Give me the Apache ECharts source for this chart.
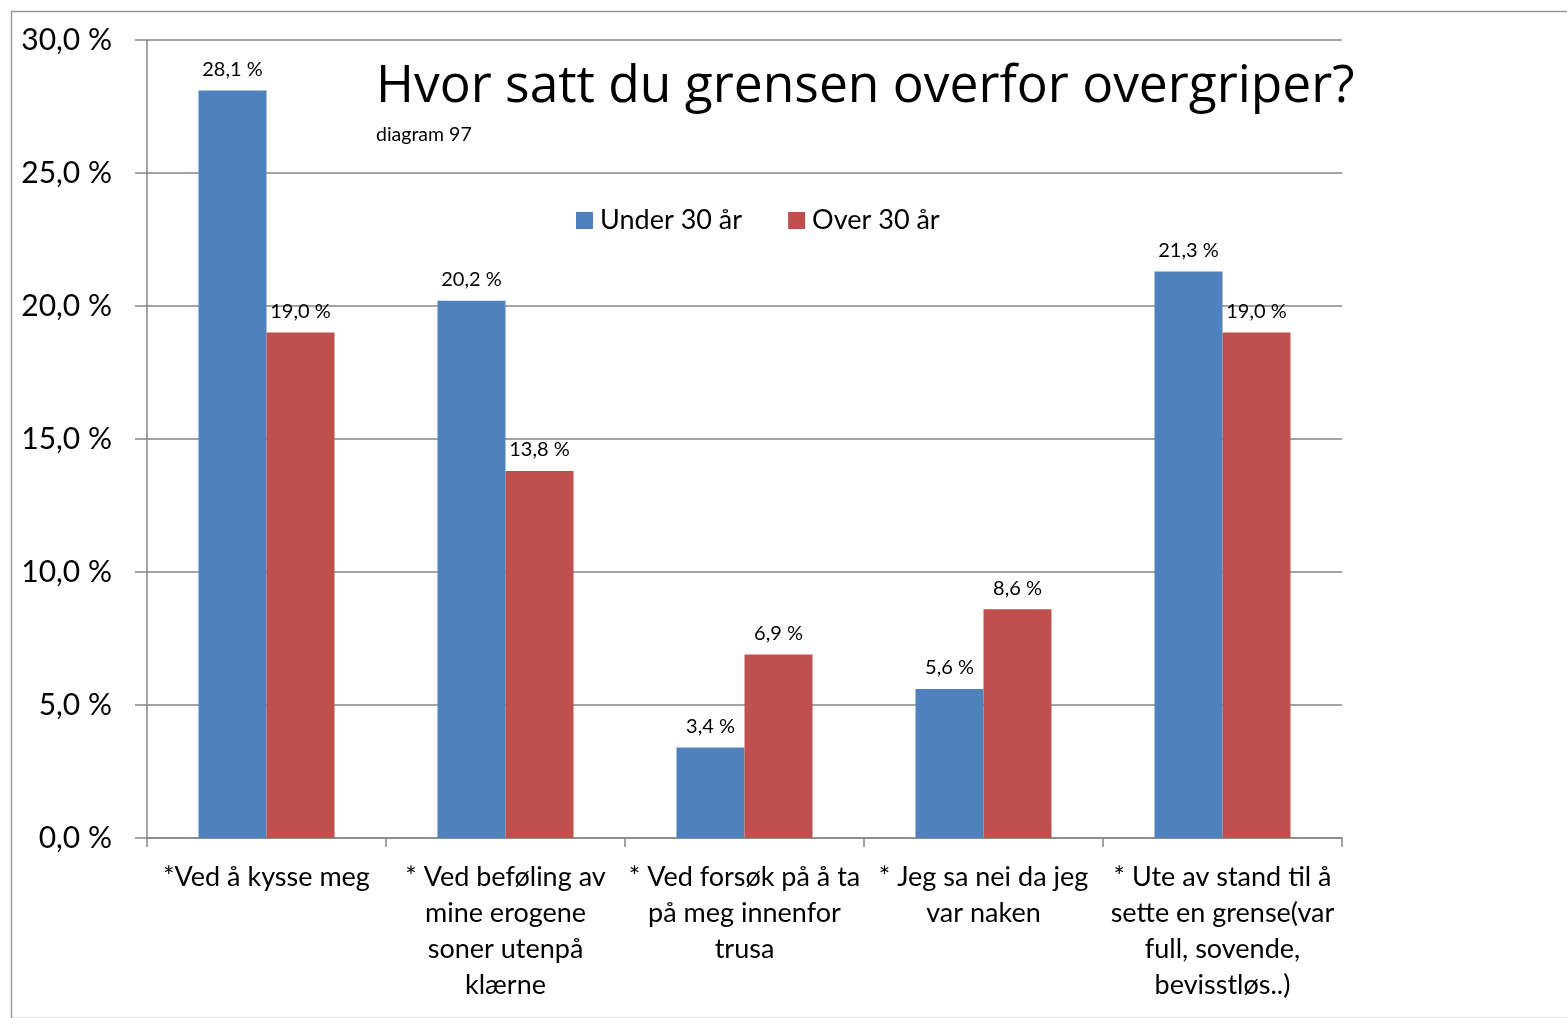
<!DOCTYPE html>
<html><head><meta charset="utf-8">
<script src="https://cdn.jsdelivr.net/npm/echarts@6/dist/echarts.min.js"></script>
<style>html,body{margin:0;padding:0;background:#fff}#c{width:1567px;height:1018px}</style>
</head><body><div id="c"></div>
<script>
const categories = [
  "*Ved å kysse meg",
  "* Ved beføling av\nmine erogene\nsoner utenpå\nklærne",
  "* Ved forsøk på å ta\npå meg innenfor\ntrusa",
  "* Jeg sa nei da jeg\nvar naken",
  "* Ute av stand til å\nsette en grense(var\nfull, sovende,\nbevisstløs..)"
];
const under30 = [28.1, 20.2, 3.4, 5.6, 21.3];
const over30 = [19.0, 13.8, 6.9, 8.6, 19.0];
const seriesNames = ["Under 30 år", "Over 30 år"];
const titleText = "Hvor satt du grensen overfor overgriper?";
const subtitleText = "diagram 97";

const FONT = "Lato, 'Open Sans', sans-serif";
const fmt = v => v.toFixed(1).replace('.', ',') + ' %';
const chart = echarts.init(document.getElementById('c'), null, {renderer: 'canvas'});
const labelCfg = {show: true, position: 'top', distance: 11, fontFamily: FONT, fontSize: 20, color: '#000',
  formatter: p => fmt(p.value)};
chart.setOption({
  animation: false,
  backgroundColor: '#fff',
  graphic: [{type: 'rect', left: 9, top: 9, shape: {width: 1600, height: 1007},
    style: {fill: 'none', stroke: '#9a9a9a', lineWidth: 1.5}, z: -1}],
  title: {text: titleText, subtext: subtitleText, left: 371, top: 56, itemGap: 12,
    textStyle: {fontFamily: "'Open Sans', sans-serif", fontSize: 51.5, fontWeight: 'normal', color: '#000'},
    subtextStyle: {fontFamily: FONT, fontSize: 19.5, color: '#000'}},
  legend: {left: 571, top: 202, itemWidth: 17, itemHeight: 17, itemGap: 46, icon: 'rect',
    textStyle: {fontFamily: FONT, fontSize: 27, color: '#000', padding: [0, 0, 0, 2]}, data: seriesNames},
  grid: {left: 147, right: 1567 - 1342, top: 40, bottom: 1018 - 838, containLabel: false},
  xAxis: {type: 'category', data: categories,
    axisLine: {lineStyle: {color: '#868686', width: 1.5}},
    axisTick: {show: true, length: 9, lineStyle: {color: '#868686', width: 1.5}},
    axisLabel: {interval: 0, margin: 21, fontFamily: FONT, fontSize: 27, lineHeight: 36, color: '#000', align: 'center'}},
  yAxis: {type: 'value', min: 0, max: 30, interval: 5,
    axisLine: {show: true, lineStyle: {color: '#868686', width: 1.5}},
    axisTick: {show: true, length: 12, lineStyle: {color: '#868686', width: 1.5}},
    splitLine: {lineStyle: {color: '#868686', width: 1.5}},
    axisLabel: {margin: 35, fontFamily: FONT, fontSize: 30, color: '#000', formatter: v => fmt(v)}},
  series: [
    {name: seriesNames[0], type: 'bar', data: under30, barWidth: 68, barGap: '0%',
      itemStyle: {color: '#4F81BD'}, label: labelCfg},
    {name: seriesNames[1], type: 'bar', data: over30, barWidth: 68, barGap: '0%',
      itemStyle: {color: '#C0504D'}, label: labelCfg}
  ]
});
</script></body></html>
